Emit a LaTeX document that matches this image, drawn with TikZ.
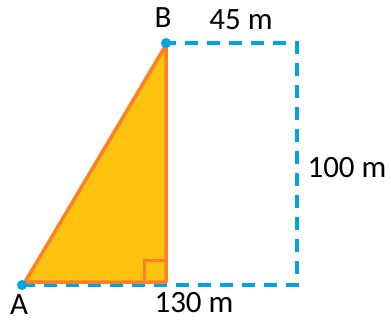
\documentclass[tikz,border=0pt]{standalone}
\usepackage{fontspec}
\setmainfont{Carlito}
\definecolor{tblue}{RGB}{0,162,232}
\definecolor{torange}{RGB}{255,127,39}
\definecolor{tfill}{RGB}{255,194,14}
\begin{document}
\begin{tikzpicture}[x=1pt,y=-1pt,
  lbl/.style={font=\fontsize{31}{34}\selectfont, inner sep=0pt},
  dashline/.style={draw=tblue, line width=3.5pt, dash pattern=on 13pt off 9pt},
  tri/.style={draw=torange, fill=tfill, line width=3.5pt, line join=round},
  dotmark/.style={circle, fill=tblue, minimum size=10pt, inner sep=0pt}]
\useasboundingbox (0,0) rectangle (391,324);
\coordinate (A) at (22,285);
\coordinate (B) at (166,43);
\coordinate (R) at (297,285);
\coordinate (T) at (297,43);
\coordinate (tA) at (25,282);
\coordinate (tB) at (166,45);
\coordinate (tC) at (166,282);
\draw[dashline] (A) -- (R) -- (T) -- (B);
\draw[tri] (tA) -- (tB) -- (tC) -- cycle;
\draw[draw=torange, line width=3pt] (144,282) -- (144,260) -- (166,260);
\node[dotmark] (dA) at (A) {};
\node[dotmark] (dB) at (B) {};
\node[lbl] (lB) at (163,18) {B};
\node[lbl] (l45) at (241,20) {45 m};
\node[lbl] (l100) at (347,168) {100 m};
\node[lbl] (lA) at (19,305) {A};
\node[lbl] (l130) at (194,303) {130 m};
\end{tikzpicture}
\end{document}
